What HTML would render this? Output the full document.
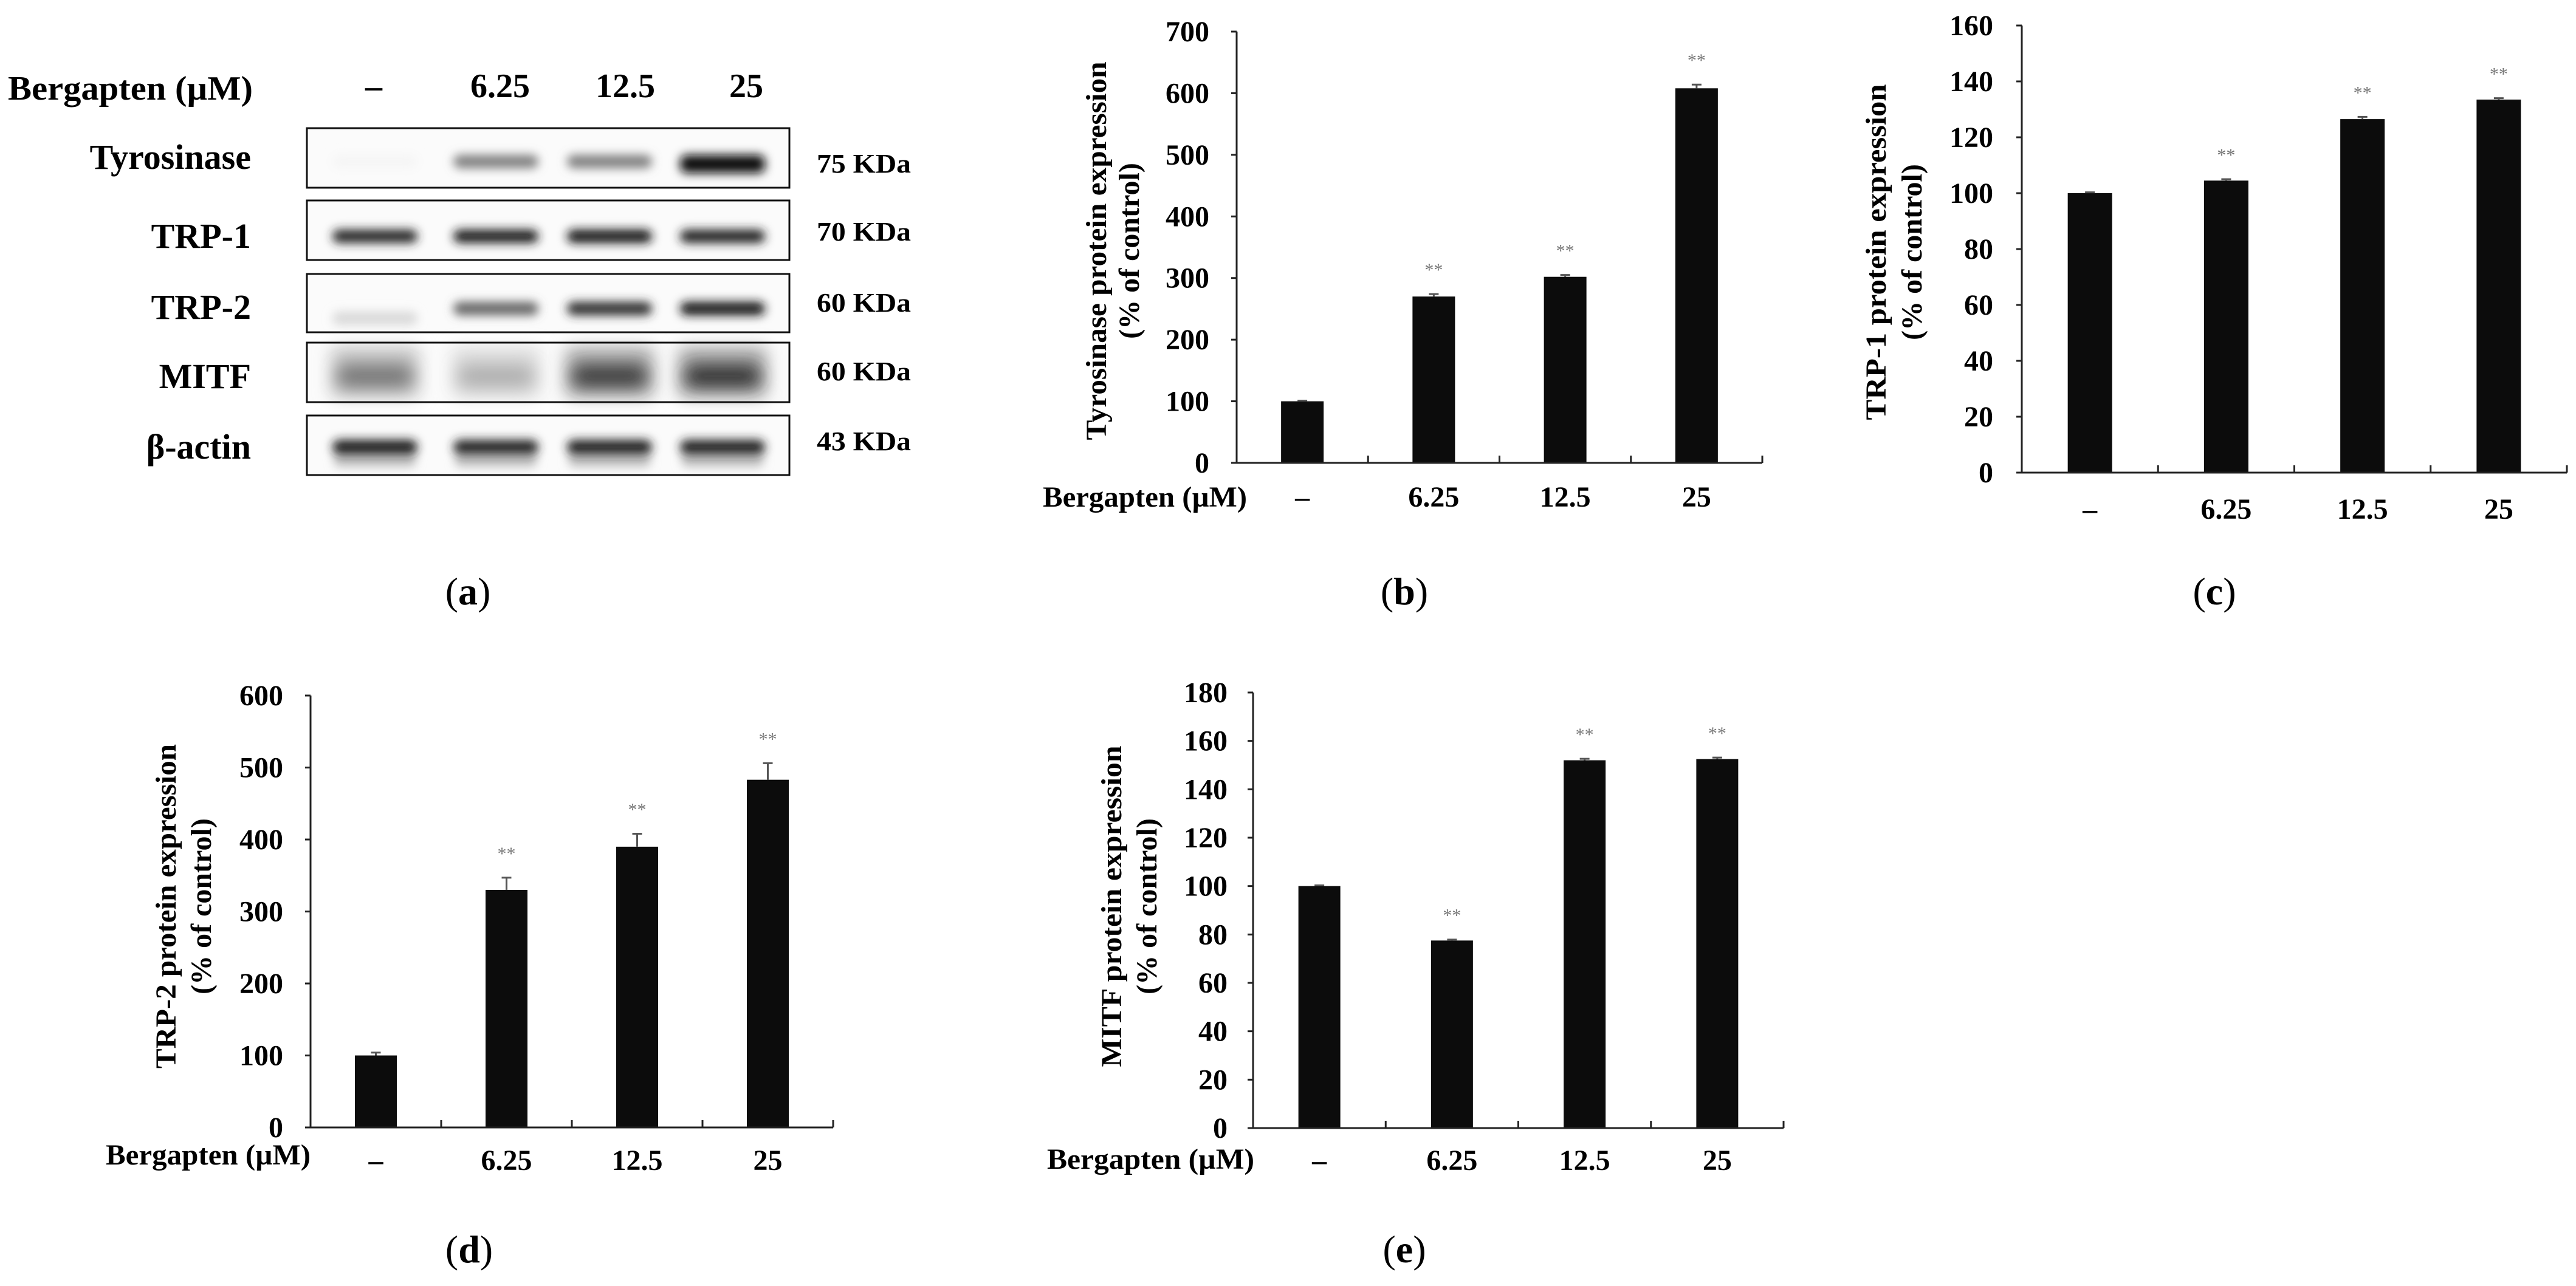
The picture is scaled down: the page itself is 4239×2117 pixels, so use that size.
<!DOCTYPE html>
<html><head><meta charset="utf-8">
<style>
html,body{margin:0;padding:0;background:#fff;}
svg{display:block;}
text{font-family:"Liberation Serif",serif;}
</style></head>
<body>
<svg id="fig" width="4239" height="2117" viewBox="0 0 4239 2117" xmlns="http://www.w3.org/2000/svg">
<defs>
<filter id="blur8" x="-30%" y="-100%" width="160%" height="300%"><feGaussianBlur stdDeviation="8"/></filter>
<filter id="blur14" x="-30%" y="-100%" width="160%" height="300%"><feGaussianBlur stdDeviation="14"/></filter>
</defs>
<rect width="4239" height="2117" fill="#fff"/>
<g id="blot"></g>
<g id="charts"></g>
</svg>
<script>
// ---- Data ----
const categories = ["\u2013", "6.25", "12.5", "25"];
const tyrValues = [100, 270, 302, 608];
const tyrErrors = [1, 4, 3, 6];
const trp1Values = [100, 104.5, 126.5, 133.5];
const trp1Errors = [0.3, 0.5, 0.8, 0.5];
const trp2Values = [100, 330, 390, 483];
const trp2Errors = [4, 17, 18, 23];
const mitfValues = [100, 77.5, 152, 152.5];
const mitfErrors = [0.3, 0.4, 0.6, 0.6];
const tyrTicks = [0,100,200,300,400,500,600,700];
const trp1Ticks = [0,20,40,60,80,100,120,140,160];
const trp2Ticks = [0,100,200,300,400,500,600];
const mitfTicks = [0,20,40,60,80,100,120,140,160,180];
const significance = [false, true, true, true];
// blot band intensities per lane
const blotRows = ["Tyrosinase","TRP-1","TRP-2","MITF","\u03b2-actin"];
const blotWeights = ["75 KDa","70 KDa","60 KDa","60 KDa","43 KDa"];
const tyrBand = [0.04, 0.5, 0.5, 0.97];
const trp1Band = [0.85, 0.88, 0.9, 0.86];
const trp2Band = [0.15, 0.6, 0.82, 0.92];
const mitfBand = [0.55, 0.32, 0.78, 0.82];
const actinBand = [0.88, 0.85, 0.87, 0.86];

const NS = "http://www.w3.org/2000/svg";
function mk(tag, attrs, parent, txt){
  const e = document.createElementNS(NS, tag);
  for (const k in attrs) e.setAttribute(k, attrs[k]);
  if (txt !== undefined) e.textContent = txt;
  parent.appendChild(e);
  return e;
}

// ---- Western blot ----
const blot = document.getElementById('blot');
let t = mk('text',{x:13,y:164,'font-size':56,'font-weight':'bold',textLength:403,lengthAdjust:'spacingAndGlyphs'},blot,"Bergapten (\u00b5M)");


const laneX = [617, 816, 1003, 1189];
const headerX = [615, 823, 1029, 1228];
categories.forEach((c,i)=>{
  const h = mk('text',{x:headerX[i],y:160,'font-size':56,'font-weight':'bold','text-anchor':'middle'},blot,c);
  
  
});
const boxY = [211, 330, 451, 564, 684];
const boxH = [98, 98, 96, 98, 98];
const labelBase = [278, 408, 525, 639, 755];
const kdaBase = [284, 396, 513, 626, 741];
const bandSets = [tyrBand, trp1Band, trp2Band, mitfBand, actinBand];
blotRows.forEach((r,ri)=>{
  const g = mk('g',{},blot);
  
  
  const lab = mk('text',{x:413,y:labelBase[ri],'font-size':58,'font-weight':'bold','text-anchor':'end'},g,r);
  
  
  const y0 = boxY[ri], h = boxH[ri];
  const box = mk('rect',{x:505,y:y0,width:794,height:h,fill:'#fbfbfb'},g);
  
  
  const bandsG = mk('g',{'clip-path':''},g);
  bandSets[ri].forEach((v,li)=>{
    const cx = laneX[li];
    const gray = Math.round(255*(1-v));
    const col = `rgb(${gray},${gray},${gray})`;
    let b;
    if (ri===3){
      mk('rect',{x:cx-72,y:y0+8,width:144,height:h-16,fill:`rgb(${Math.round(255-110*v)},${Math.round(255-110*v)},${Math.round(255-110*v)})`,filter:'url(#blur14)'},bandsG);
      b = mk('rect',{x:cx-62,y:y0+38,width:124,height:34,rx:16,fill:col,filter:'url(#blur14)'},bandsG);
    } else if (ri===4){
      mk('rect',{x:cx-68,y:y0+62,width:136,height:22,rx:10,fill:'#bbb',filter:'url(#blur8)'},bandsG);
      b = mk('rect',{x:cx-70,y:y0+40,width:140,height:24,rx:12,fill:col,filter:'url(#blur8)'},bandsG);
    } else {
      const by = ri===0 ? y0+44 : (ri===2 && li===0 ? y0+62 : (ri===2 ? y0+46 : y0+48));
      b = mk('rect',{x:cx-70,y:by,width:140,height:ri===0&&li===3?30:22,rx:11,fill:col,filter:'url(#blur8)'},bandsG);
    }
    
    
  });
  mk('rect',{x:505,y:y0,width:794,height:h,fill:'none',stroke:'#111','stroke-width':3},g);
  const kd = mk('text',{x:1344,y:kdaBase[ri],'font-size':44,'font-weight':'bold',textLength:155,lengthAdjust:'spacingAndGlyphs'},g,blotWeights[ri]);
  
  
});

// ---- Charts ----
const charts = document.getElementById('charts');
function drawChart(name, cfg, values, errors, ticks, yMax){
  const g = mk('g',{},charts);
  
  
  const ys = v => cfg.y0 - (v/yMax)*(cfg.y0-cfg.yTop);
  const slot = (cfg.xEnd-cfg.x0)/values.length;
  const xs = i => cfg.x0 + slot*(i+0.5);
  // y axis
  const ya = mk('line',{x1:cfg.x0,y1:cfg.yTop,x2:cfg.x0,y2:cfg.y0,stroke:'#222','stroke-width':3},g);
  
  
  ticks.forEach(tv=>{
    const y = ys(tv);
    const tk = mk('line',{x1:cfg.x0-9,y1:y,x2:cfg.x0,y2:y,stroke:'#222','stroke-width':3},g);
    
    
    const tl = mk('text',{x:cfg.labelRight,y:y+16,'font-size':48,'font-weight':'bold','text-anchor':'end'},g,String(tv));
    
    
  });
  // bars
  values.forEach((v,i)=>{
    const x = xs(i);
    const top = ys(v);
    const bar = mk('rect',{x:x-cfg.bw/2,y:top,width:cfg.bw,height:cfg.y0-top,fill:'#0c0c0c'},g);
    
    
    const et = ys(v+errors[i]);
    const e1 = mk('line',{x1:x,y1:top,x2:x,y2:et,stroke:'#555','stroke-width':3},g);
    
    
    mk('line',{x1:x-8,y1:et,x2:x+8,y2:et,stroke:'#555','stroke-width':3},g);
    if (significance[i]){
      const s = mk('text',{x:x,y:et-30,'font-size':30,fill:'#777','text-anchor':'middle'},g,"**");
      
      
    }
    const cl = mk('text',{x:x,y:cfg.catBase,'font-size':48,'font-weight':'bold','text-anchor':'middle'},g,categories[i]);
    
    
  });
  // x axis
  const xa = mk('line',{x1:cfg.x0,y1:cfg.y0,x2:cfg.xEnd,y2:cfg.y0,stroke:'#222','stroke-width':3},g);
  
  
  for (let i=1;i<=values.length;i++){
    const x = cfg.x0+slot*i;
    mk('line',{x1:x,y1:cfg.y0-12,x2:x,y2:cfg.y0,stroke:'#222','stroke-width':3},g);
  }
  // titles
  cfg.title.forEach((line,li)=>{
    const tx = cfg.titleX[li]+17;
    const tt = mk('text',{x:tx,y:cfg.titleCy,'font-size':48,'font-weight':'bold','text-anchor':'middle',transform:`rotate(-90 ${tx} ${cfg.titleCy})`},g,line);
    if (li===0){ tt.setAttribute('textLength', cfg.titleLen); tt.setAttribute('lengthAdjust','spacingAndGlyphs'); }
    
    
  });
  if (cfg.berg){
    const bl = mk('text',{x:cfg.berg[0],y:cfg.berg[1],'font-size':48,'font-weight':'bold',textLength:cfg.berg[2]-cfg.berg[0],lengthAdjust:'spacingAndGlyphs'},g,"Bergapten (\u00b5M)");
    
    
  }
}

drawChart('tyrosinase-chart',{x0:2035,xEnd:2900,y0:762,yTop:52,bw:70,labelRight:1990,catBase:834,
  title:["Tyrosinase protein expression","(% of control)"],titleX:[1803,1857],titleCy:413,titleLen:623,berg:[1716,834,2052]},
  tyrValues,tyrErrors,tyrTicks,700);
drawChart('trp1-chart',{x0:3327,xEnd:4224,y0:778,yTop:42,bw:73,labelRight:3280,catBase:854,
  title:["TRP-1 protein expression","(% of control)"],titleX:[3086,3145],titleCy:415,titleLen:553},
  trp1Values,trp1Errors,trp1Ticks,160);
drawChart('trp2-chart',{x0:511,xEnd:1371,y0:1856,yTop:1145,bw:69,labelRight:466,catBase:1926,
  title:["TRP-2 protein expression","(% of control)"],titleX:[272,330],titleCy:1492,titleLen:534,berg:[174,1917,511]},
  trp2Values,trp2Errors,trp2Ticks,600);
drawChart('mitf-chart',{x0:2062,xEnd:2935,y0:1857,yTop:1140,bw:69,labelRight:2020,catBase:1926,
  title:["MITF protein expression","(% of control)"],titleX:[1828,1886],titleCy:1492,titleLen:529,berg:[1723,1924,2064]},
  mitfValues,mitfErrors,mitfTicks,180);

// captions
const caps = [["a",770,995],["b",2311,995],["c",3644,995],["d",772,2078],["e",2311,2078]];
caps.forEach(c=>{
  const tx = mk('text',{x:c[1],y:c[2],'font-size':64,'text-anchor':'middle'},charts);
  
  
  mk('tspan',{},tx,"(");
  mk('tspan',{'font-weight':'bold'},tx,c[0]);
  mk('tspan',{},tx,")");
});
</script>
</body></html>
